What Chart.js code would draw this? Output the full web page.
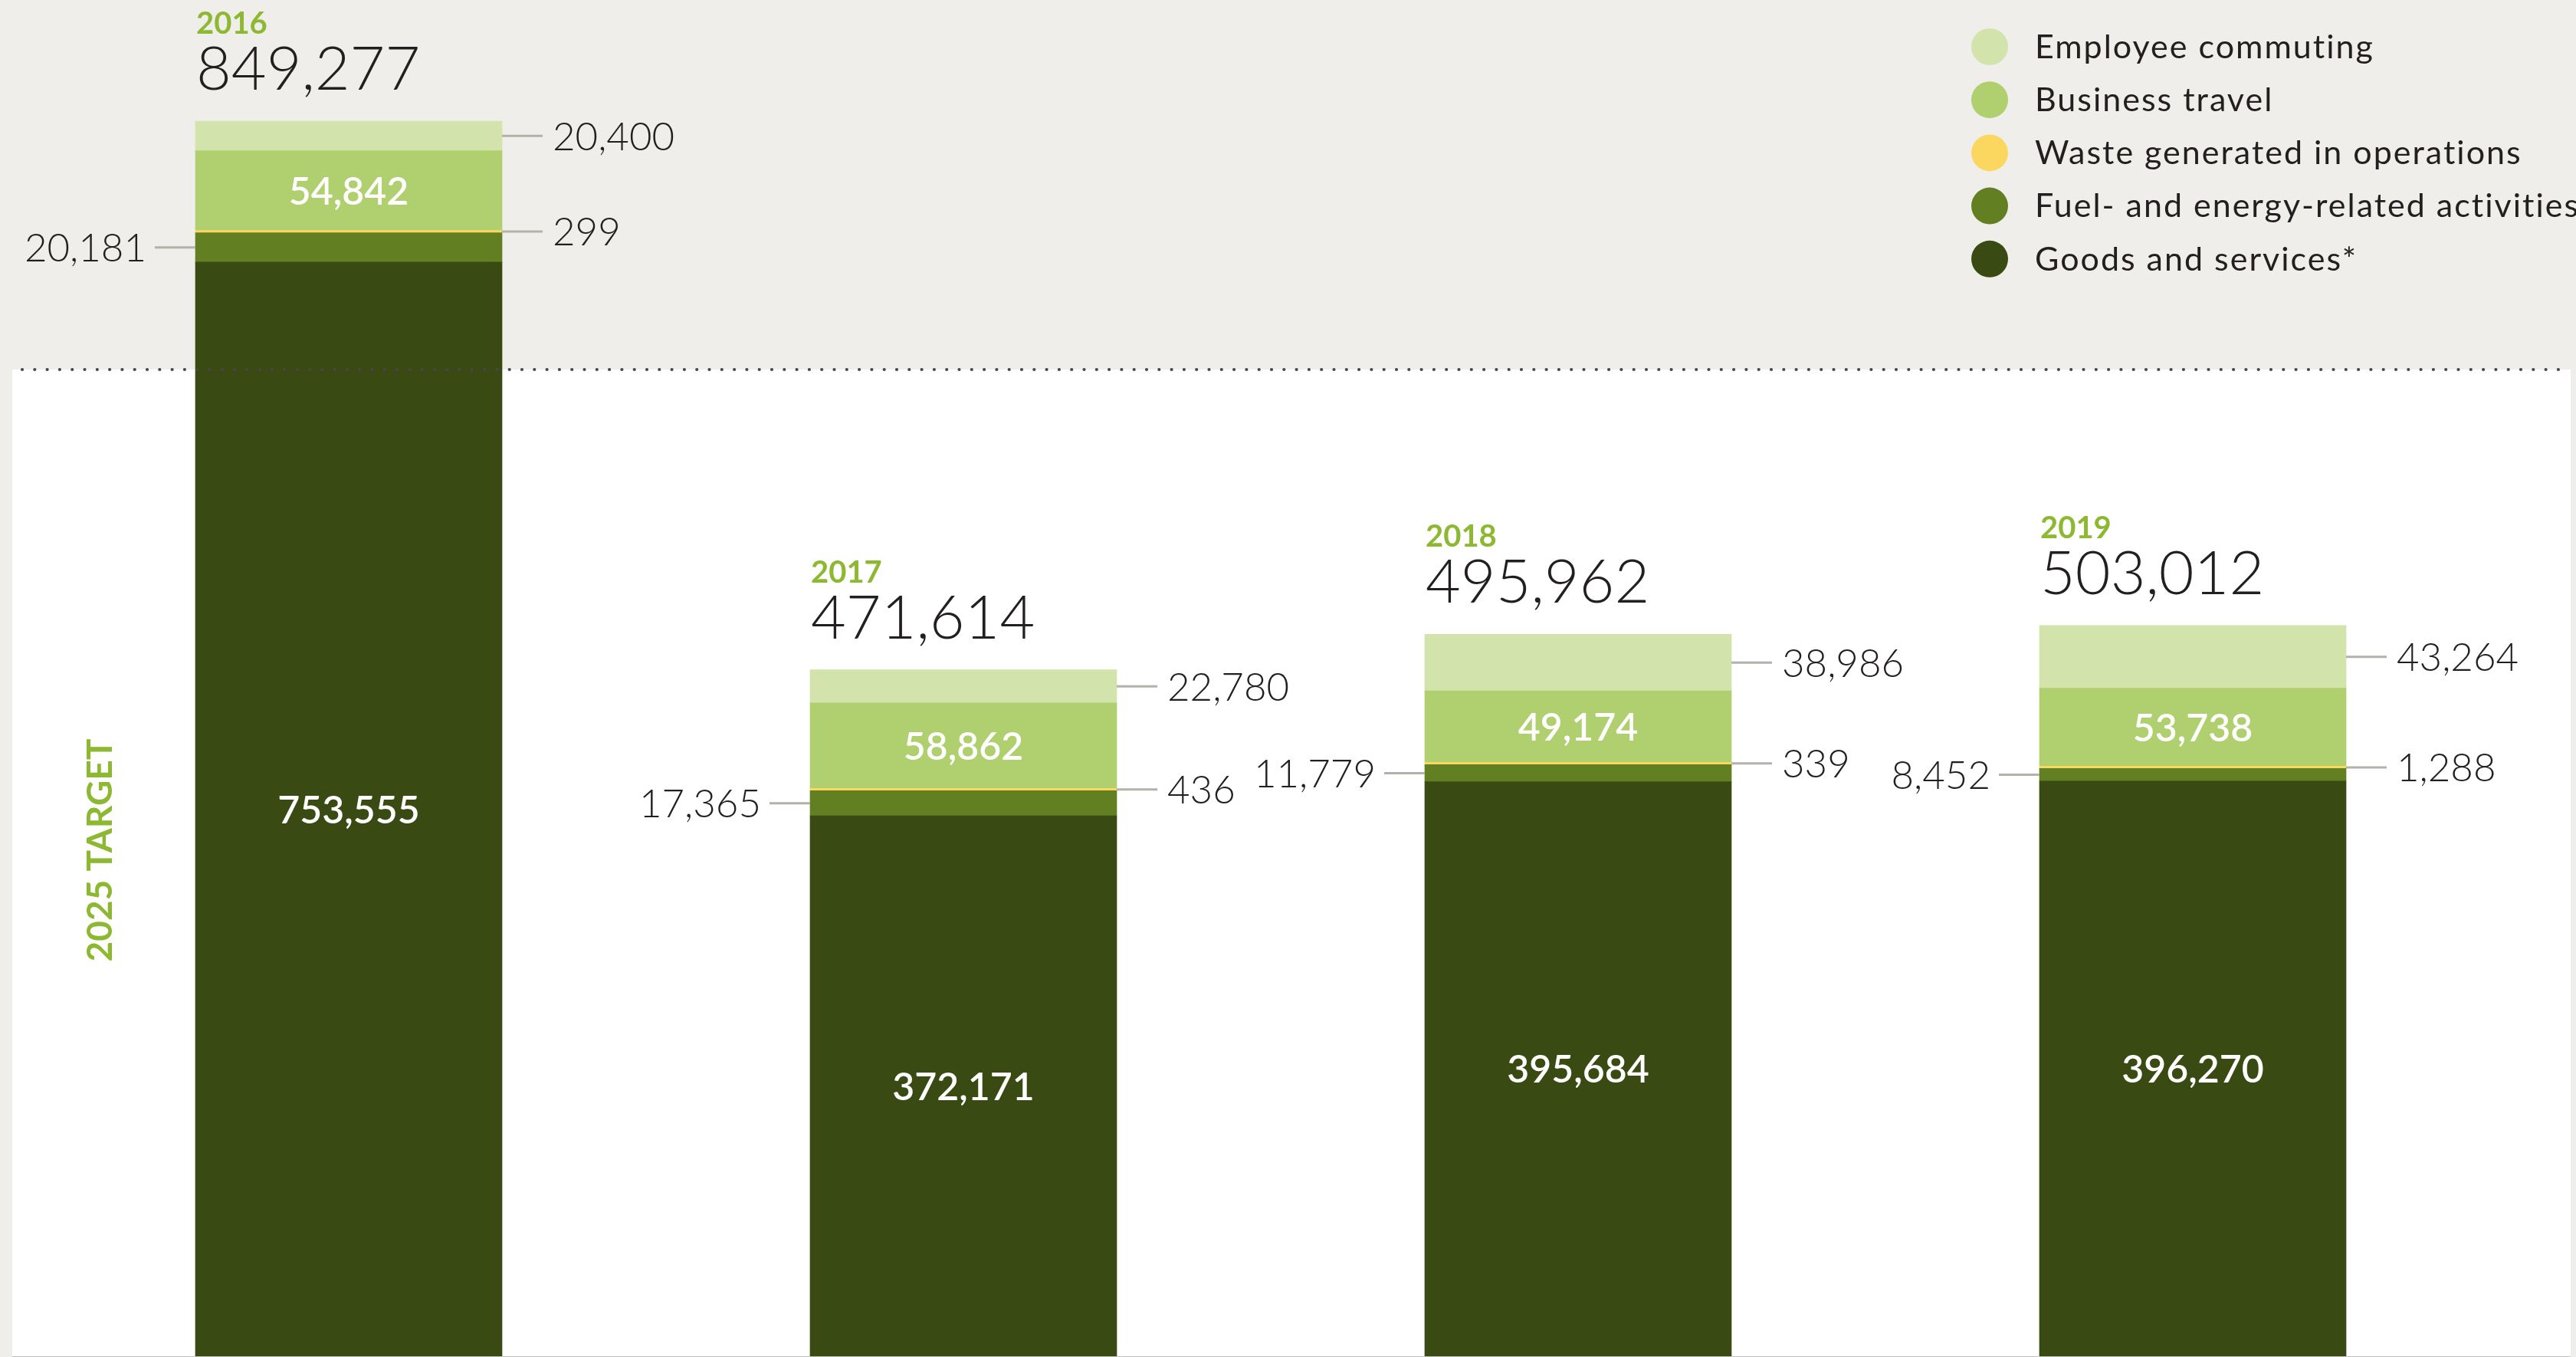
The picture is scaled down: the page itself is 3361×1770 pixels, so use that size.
<!DOCTYPE html>
<html>
<head>
<meta charset="utf-8">
<title>Scope 3 emissions by category, 2016–2019</title>
<script src="https://cdn.jsdelivr.net/npm/chart.js@4.4.1/dist/chart.umd.min.js"></script>
<style>
  html, body { margin: 0; padding: 0; background: #efeeea; }
  canvas { display: block; }
</style>
</head>
<body>
<canvas id="chart" width="3361" height="1770" style="width:3361px;height:1770px"></canvas>
<script>
// ---- data ----
const years = ['2016', '2017', '2018', '2019'];
const goodsServices     = [753555, 372171, 395684, 396270];
const fuelEnergy        = [20181, 17365, 11779, 8452];
const wasteOps          = [299, 436, 339, 1288];
const businessTravel    = [54842, 58862, 49174, 53738];
const employeeCommuting = [20400, 22780, 38986, 43264];
const seriesNames = [
  'Goods and services*',
  'Fuel- and energy-related activities',
  'Waste generated in operations',
  'Business travel',
  'Employee commuting'
];
const target2025 = 679422;          // level of the dotted target line
const targetLabel = '2025 TARGET';

// ---- styling ----
const colors = ['#3a4a13', '#628021', '#fcd75f', '#b0cf6e', '#d2e3ac'];
const GREEN = '#8db932';
const INK = '#231f20';
const LEADER = '#b3b1a9';
const PAPER = '#efeeea';
// where each series' value label goes: inside the bar, or on a leader line to one side
const labelPlacement = ['inside', 'left', 'right', 'inside', 'right'];

const fmt = v => v.toLocaleString('en-US');

const backdrop = {
  id: 'backdrop',
  beforeDraw(chart) {
    const { ctx, chartArea, scales } = chart;
    const yT = Math.round(scales.y.getPixelForValue(target2025));
    ctx.save();
    ctx.fillStyle = PAPER;
    ctx.fillRect(0, 0, chart.width, chart.height);
    ctx.fillStyle = '#ffffff';
    ctx.fillRect(16, yT, 3354 - 16, chartArea.bottom - yT);
    ctx.fillStyle = '#c4c4c4';
    ctx.fillRect(16, chartArea.bottom, 3354 - 16, 1);
    ctx.restore();
  }
};

const annotations = {
  id: 'annotations',
  afterDatasetsDraw(chart) {
    const { ctx, scales } = chart;
    const metas = chart.data.datasets.map((d, i) => chart.getDatasetMeta(i));
    ctx.save();

    // dotted target line
    const yT = Math.round(scales.y.getPixelForValue(target2025));
    ctx.fillStyle = '#474747';
    for (let x = 29; x < 3352; x += 16.3) {
      ctx.beginPath();
      ctx.arc(x, yT, 2.1, 0, Math.PI * 2);
      ctx.fill();
    }

    // vertical target caption
    ctx.save();
    ctx.translate(131, 1109);
    ctx.rotate(-Math.PI / 2);
    ctx.fillStyle = GREEN;
    ctx.font = 'bold 46px Lato';
    ctx.textAlign = 'center';
    ctx.textBaseline = 'middle';
    ctx.fillText(targetLabel, 0, 0);
    ctx.restore();

    years.forEach((year, i) => {
      let total = 0;
      chart.data.datasets.forEach((ds, k) => {
        const el = metas[k].data[i];
        const value = ds.data[i];
        total += value;
        const cy = (el.y + el.base) / 2;
        const left = el.x - el.width / 2;
        const right = el.x + el.width / 2;
        const place = labelPlacement[k];
        if (place === 'inside') {
          ctx.fillStyle = '#ffffff';
          ctx.font = '600 50px Lato';
          ctx.textAlign = 'center';
          ctx.textBaseline = 'middle';
          ctx.fillText(fmt(value), el.x, cy + 2);
        } else {
          ctx.strokeStyle = LEADER;
          ctx.lineWidth = 3;
          ctx.beginPath();
          if (place === 'right') {
            ctx.moveTo(right, cy);
            ctx.lineTo(right + 53, cy);
          } else {
            ctx.moveTo(left - 53, cy);
            ctx.lineTo(left, cy);
          }
          ctx.stroke();
          ctx.fillStyle = INK;
          ctx.font = '300 51px Lato';
          ctx.textBaseline = 'middle';
          if (place === 'right') {
            ctx.textAlign = 'left';
            ctx.fillText(fmt(value), right + 66, cy + 2);
          } else {
            ctx.textAlign = 'right';
            ctx.fillText(fmt(value), left - 64, cy + 2);
          }
        }
      });

      // year and total above each bar
      const topEl = metas[metas.length - 1].data[i];
      const x0 = topEl.x - topEl.width / 2 + 1;
      ctx.textAlign = 'left';
      ctx.textBaseline = 'alphabetic';
      ctx.fillStyle = GREEN;
      ctx.font = 'bold 40px Lato';
      ctx.fillText(year, x0, topEl.y - 114);
      ctx.fillStyle = INK;
      ctx.font = '300 79px Lato';
      ctx.fillText(fmt(total), x0, topEl.y - 41);
    });

    // legend, top series first
    const order = chart.data.datasets.map((d, k) => k).reverse();
    order.forEach((k, row) => {
      const cy = 61 + row * 69.2;
      ctx.fillStyle = chart.data.datasets[k].backgroundColor;
      ctx.beginPath();
      ctx.arc(2596, cy, 24, 0, Math.PI * 2);
      ctx.fill();
      ctx.fillStyle = INK;
      ctx.font = '400 43px Lato';
      ctx.letterSpacing = '2px';
      ctx.textAlign = 'left';
      ctx.textBaseline = 'middle';
      ctx.fillText(chart.data.datasets[k].label, 2655, cy + 1);
      ctx.letterSpacing = '0px';
    });

    ctx.restore();
  }
};

const seriesValues = [goodsServices, fuelEnergy, wasteOps, businessTravel, employeeCommuting];

new Chart(document.getElementById('chart'), {
  type: 'bar',
  data: {
    labels: years,
    datasets: seriesValues.map((values, k) => ({
      label: seriesNames[k],
      data: values,
      backgroundColor: colors[k],
      borderWidth: 0,
      barThickness: 400,
      minBarLength: k === 2 ? 3 : 0
    }))
  },
  options: {
    responsive: false,
    animation: false,
    devicePixelRatio: 1,
    layout: { padding: { left: 54, right: 99, top: 0, bottom: 1 } },
    scales: {
      x: { stacked: true, display: false },
      y: { stacked: true, display: false, min: 0, max: 934000 }
    },
    plugins: {
      legend: { display: false },
      tooltip: { enabled: false }
    }
  },
  plugins: [backdrop, annotations]
});
</script>
</body>
</html>
